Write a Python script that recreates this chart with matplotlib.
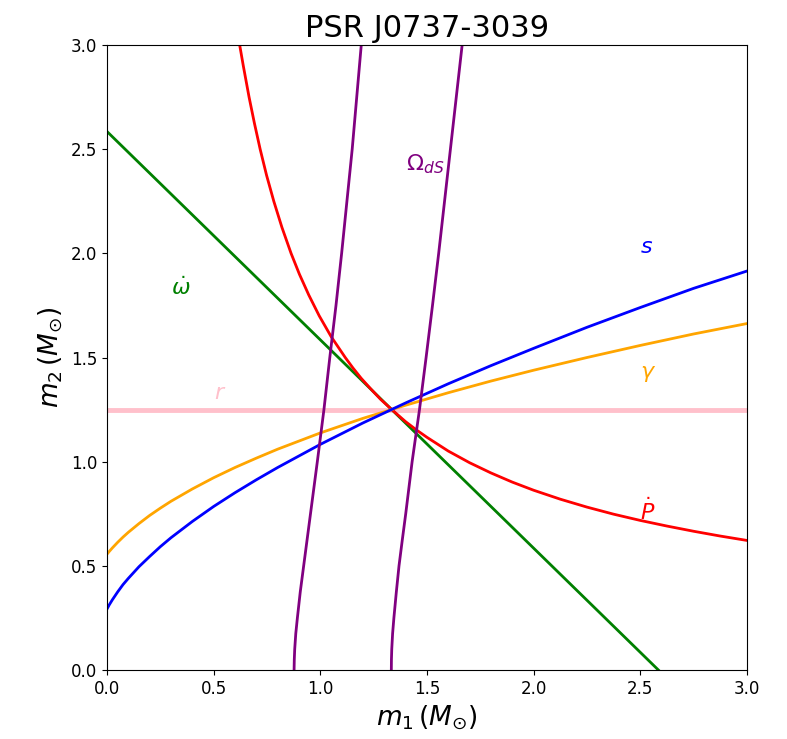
import matplotlib
matplotlib.use("Agg")
import matplotlib.pyplot as plt

# values (m1, m2 in solar masses)
omdot_m1 = [0.0, 2.585]
omdot_m2 = [2.585, 0.0]

r_m1 = [0.0, 3.0]
r_m2 = [1.25, 1.25]

s_m1 = [0.0, 0.01, 0.025, 0.05, 0.075, 0.1, 0.15, 0.2, 0.25, 0.3, 0.4, 0.5,
        0.6, 0.7, 0.8, 1.0, 1.2, 1.4, 1.6, 1.8, 2.0, 2.25, 2.5, 2.75, 3.0]
s_m2 = [0.293, 0.312, 0.337, 0.375, 0.41, 0.44, 0.496, 0.545, 0.592, 0.635,
        0.713, 0.785, 0.851, 0.913, 0.972, 1.083, 1.186, 1.282, 1.374, 1.461,
        1.544, 1.645, 1.740, 1.832, 1.915]

gamma_m1 = [0.0, 0.01, 0.025, 0.05, 0.075, 0.1, 0.15, 0.2, 0.25, 0.3, 0.4,
            0.5, 0.6, 0.7, 0.8, 1.0, 1.2, 1.4, 1.6, 1.8, 2.0, 2.25, 2.5,
            2.75, 3.0]
gamma_m2 = [0.556, 0.5685, 0.586, 0.613, 0.638, 0.661, 0.703, 0.742, 0.777,
            0.81, 0.869, 0.923, 0.972, 1.017, 1.06, 1.138, 1.208, 1.271,
            1.331, 1.387, 1.439, 1.50, 1.558, 1.613, 1.663]

pdot_m1 = [0.622, 0.639, 0.666, 0.691, 0.718, 0.748, 0.782, 0.82, 0.863,
           0.902, 0.946, 0.995, 1.051, 1.117, 1.153, 1.192, 1.236, 1.282,
           1.334, 1.4, 1.45, 1.5, 1.6, 1.7, 1.8, 1.9, 2.0, 2.125, 2.25,
           2.375, 2.5, 2.625, 2.75, 2.875, 3.0]
pdot_m2 = [3.0, 2.9, 2.75, 2.625, 2.5, 2.375, 2.25, 2.125, 2.0,
           1.9, 1.8, 1.7, 1.6, 1.5, 1.45, 1.4, 1.35, 1.3,
           1.251, 1.192, 1.153, 1.117, 1.051, 0.995, 0.946, 0.902, 0.863,
           0.82, 0.782, 0.748, 0.718, 0.691, 0.666, 0.643, 0.622]

# geodetic precession: lower / upper bound
ods_m2 = [0.0, 0.05, 0.1, 0.175, 0.25, 0.375, 0.5, 0.625, 0.75, 1.0, 1.25,
          1.5, 1.75, 2.0, 2.5, 3.0]
ods_lo_m1 = [0.877, 0.878, 0.880, 0.885, 0.8925, 0.906, 0.922, 0.938, 0.954,
             0.986, 1.017, 1.0445, 1.0735, 1.10, 1.1495, 1.192]
ods_hi_m1 = [1.333, 1.3335, 1.335, 1.339, 1.345, 1.3565, 1.369, 1.3845,
             1.4005, 1.4305, 1.465, 1.496, 1.526, 1.555, 1.610, 1.665]

fig = plt.figure(figsize=(7.87, 7.39), dpi=100)
ax = fig.add_axes([0.136, 0.0934, 0.813, 0.8456])

ax.plot(r_m1, r_m2, color="pink", lw=3.5)
ax.plot(omdot_m1, omdot_m2, color="green", lw=2)
ax.plot(pdot_m1, pdot_m2, color="red", lw=2)
ax.plot(gamma_m1, gamma_m2, color="orange", lw=2)
ax.plot(s_m1, s_m2, color="blue", lw=2)
ax.plot(ods_lo_m1, ods_m2, color="purple", lw=2)
ax.plot(ods_hi_m1, ods_m2, color="purple", lw=2)

ax.text(0.3, 1.8, r"$\dot{\omega}$", color="green", fontsize=16)
ax.text(0.5, 1.3, r"$r$", color="pink", fontsize=16)
ax.text(2.5, 2.0, r"$s$", color="blue", fontsize=16)
ax.text(2.5, 1.4, r"$\gamma$", color="orange", fontsize=16)
ax.text(2.5, 0.72, r"$\dot{P}$", color="red", fontsize=16)
ax.text(1.4, 2.4, r"$\Omega_{dS}$", color="purple", fontsize=16)

ax.set_xlim(0, 3)
ax.set_ylim(0, 3)
ax.tick_params(labelsize=12)
ax.set_xlabel(r"$m_1\,(M_{\odot})$", fontsize=19)
ax.set_ylabel(r"$m_2\,(M_{\odot})$", fontsize=19)
ax.set_title("PSR J0737-3039", fontsize=22)

fig.savefig("out.png")
